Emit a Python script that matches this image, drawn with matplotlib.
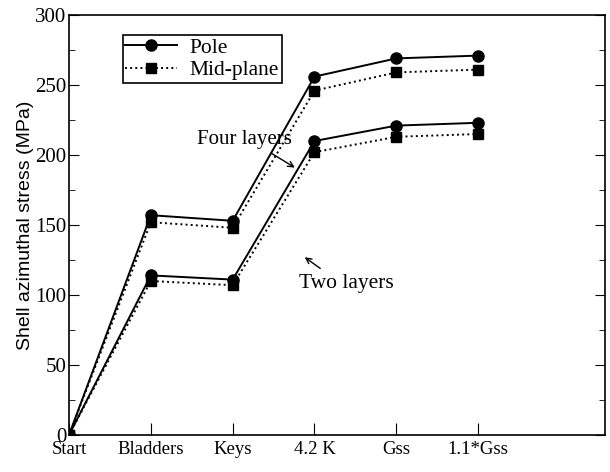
import numpy as np
import matplotlib
matplotlib.use('Agg')
import matplotlib.pyplot as plt

# data
stages = ['Start', 'Bladders', 'Keys', '4.2 K', 'Gss', '1.1*Gss']
four_pole = [0, 157, 153, 256, 269, 271]
four_mid = [0, 152, 148, 246, 259, 261]
two_pole = [0, 114, 111, 210, 221, 223]
two_mid = [0, 110, 107, 202, 213, 215]

plt.rcParams['font.family'] = ['Liberation Serif', 'DejaVu Serif']

fig = plt.figure(figsize=(6.1, 4.72), dpi=100)
ax = fig.add_axes([69/610, 1 - 435/472, (605-69)/610, (435-15)/472])

x = np.arange(len(stages))
ax.plot(x, four_pole, '-o', color='black', lw=1.4, ms=8, label='Pole')
ax.plot(x, four_mid, ':s', color='black', lw=1.4, ms=7, label='Mid-plane')
ax.plot(x, two_pole, '-o', color='black', lw=1.4, ms=8)
ax.plot(x, two_mid, ':s', color='black', lw=1.4, ms=7)

ax.set_xlim(0, 6.55)
ax.set_ylim(0, 300)
ax.set_xticks(x)
ax.set_xticklabels(stages, fontsize=13.5)
ax.set_yticks(np.arange(0, 301, 50))
ax.set_yticks(np.arange(0, 301, 25), minor=True)
ax.tick_params(axis='y', which='both', direction='in', right=True, labelsize=15, pad=2)
ax.tick_params(axis='y', which='major', length=7)
ax.tick_params(axis='y', which='minor', length=4)
ax.tick_params(axis='x', direction='in', length=9, labelsize=13.5, pad=4)
ax.set_ylabel('Shell azimuthal stress (MPa)', fontsize=14, family='Liberation Sans', labelpad=1)
for s in ax.spines.values():
    s.set_linewidth(1.2)

# labels with arrows
arrow = dict(arrowstyle='->', color='black', lw=1, shrinkA=0, shrinkB=0)
ax.text(2.14, 211, 'Four layers', fontsize=15, ha='center', va='center')
ax.annotate('', xy=(2.76, 191), xytext=(2.48, 201), arrowprops=arrow)
ax.text(3.39, 108.5, 'Two layers', fontsize=15.5, ha='center', va='center')
ax.annotate('', xy=(2.88, 127), xytext=(3.07, 119), arrowprops=arrow)

leg = ax.legend(loc='upper left', bbox_to_anchor=(0.10, 0.952), borderaxespad=0,
                fontsize=15.5, frameon=True, fancybox=False, edgecolor='black',
                handlelength=2.4, borderpad=0.12, labelspacing=0.1,
                handletextpad=0.6, framealpha=1)
leg.get_frame().set_linewidth(1.2)

fig.savefig('out.png', dpi=100)
